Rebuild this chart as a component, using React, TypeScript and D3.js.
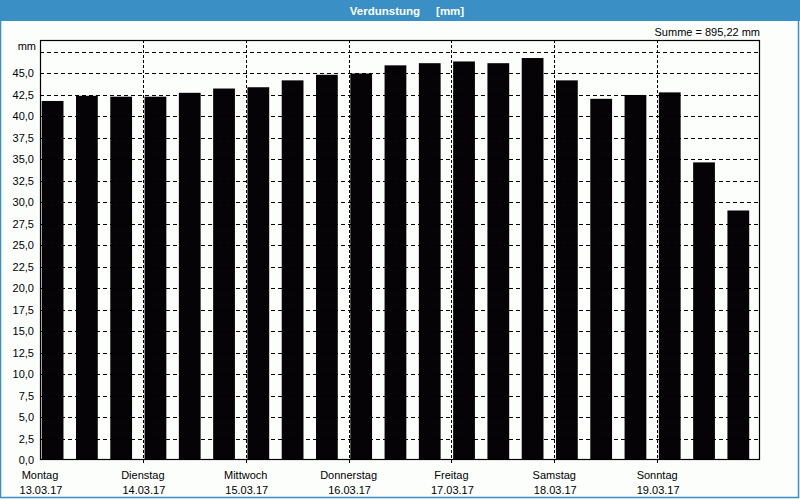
import React from "react";
import * as d3 from "d3";

const dayNames = ["Montag", "Dienstag", "Mittwoch", "Donnerstag", "Freitag", "Samstag", "Sonntag"];
const dayDates = ["13.03.17", "14.03.17", "15.03.17", "16.03.17", "17.03.17", "18.03.17", "19.03.17"];
const values = [41.8, 42.4, 42.3, 42.3, 42.75, 43.25, 43.4, 44.2, 44.85, 45.0, 45.95, 46.2, 46.4, 46.2, 46.8, 44.2, 42.05, 42.5, 42.8, 34.65, 29.05];
const yTicks = [0, 2.5, 5, 7.5, 10, 12.5, 15, 17.5, 20, 22.5, 25, 27.5, 30, 32.5, 35, 37.5, 40, 42.5, 45];
const gridValues = [2.5, 5, 7.5, 10, 12.5, 15, 17.5, 20, 22.5, 25, 27.5, 30, 32.5, 35, 37.5, 40, 42.5, 45, 47.5];
const title = "Verdunstung     [mm]";
const sumLabel = "Summe = 895,22 mm";

const W = 800, H = 500;
const L = 40, R = 760, T = 40, B = 460;
const FONT = "'Liberation Sans', 'DejaVu Sans', sans-serif";

export default function App() {
  const y = d3.scaleLinear().domain([0, 48.9]).range([B, T]);
  const xDay = d3.scaleLinear().domain([0, dayNames.length]).range([L, R]);
  const xBar = d3.scaleLinear().domain([0, values.length]).range([L, R]);
  const slot = xBar(1) - xBar(0);
  const fmt = (v: number) => v.toFixed(1).replace(".", ",");

  return (
    <svg width={W} height={H} style={{ position: "fixed", left: 0, top: 0, background: "#fcfefc" }}>
      <rect x={0} y={0} width={W} height={H} fill="#fcfefc" />
      <rect x={0.5} y={0.5} width={798} height={497} fill="none" stroke="#3a8fc4" strokeWidth={1.5} />
      <rect x={0} y={0} width={W} height={21} fill="#3a8fc4" />
      <text x={407} y={14.5} textAnchor="middle" fill="#fff" fontFamily={FONT} fontWeight="bold" fontSize={11.5} style={{ whiteSpace: "pre" }}>
        {title}
      </text>
      <text x={R} y={36} textAnchor="end" fill="#000" fontFamily={FONT} fontSize={11}>{sumLabel}</text>

      {/* bars */}
      {values.map((v, i) => (
        <rect key={i} x={xBar(i) + slot * 0.05} y={y(v)} width={slot * 0.635} height={B - y(v)} fill="#050306" />
      ))}

      {/* horizontal grid */}
      {gridValues.map((g) => (
        <line key={g} x1={L} x2={R} y1={Math.round(y(g)) + 0.5} y2={Math.round(y(g)) + 0.5} stroke="#000" strokeDasharray="4,3" strokeWidth={1} />
      ))}
      {/* vertical grid */}
      {dayNames.slice(1).map((_, i) => (
        <line key={i} x1={Math.round(xDay(i + 1)) + 0.5} x2={Math.round(xDay(i + 1)) + 0.5} y1={T} y2={B + 3} stroke="#000" strokeDasharray="3,2" strokeWidth={1} />
      ))}

      {/* frame */}
      <rect x={L + 0.5} y={T + 0.5} width={R - L - 1} height={B - T - 1} fill="none" stroke="#000" strokeWidth={1.2} />

      {/* y labels */}
      {yTicks.map((t) => (
        <text key={t} x={34} y={y(t) + 4} textAnchor="end" fill="#000" fontFamily={FONT} fontSize={11}>{fmt(t)}</text>
      ))}
      <text x={36} y={50} textAnchor="end" fill="#000" fontFamily={FONT} fontSize={11}>mm</text>

      {/* x labels */}
      {dayNames.map((d, i) => (
        <g key={d}>
          <text x={xDay(i)} y={479} textAnchor="middle" fill="#000" fontFamily={FONT} fontSize={11}>{d}</text>
          <text x={xDay(i) + 1} y={494} textAnchor="middle" fill="#000" fontFamily={FONT} fontSize={11}>{dayDates[i]}</text>
        </g>
      ))}
    </svg>
  );
}
